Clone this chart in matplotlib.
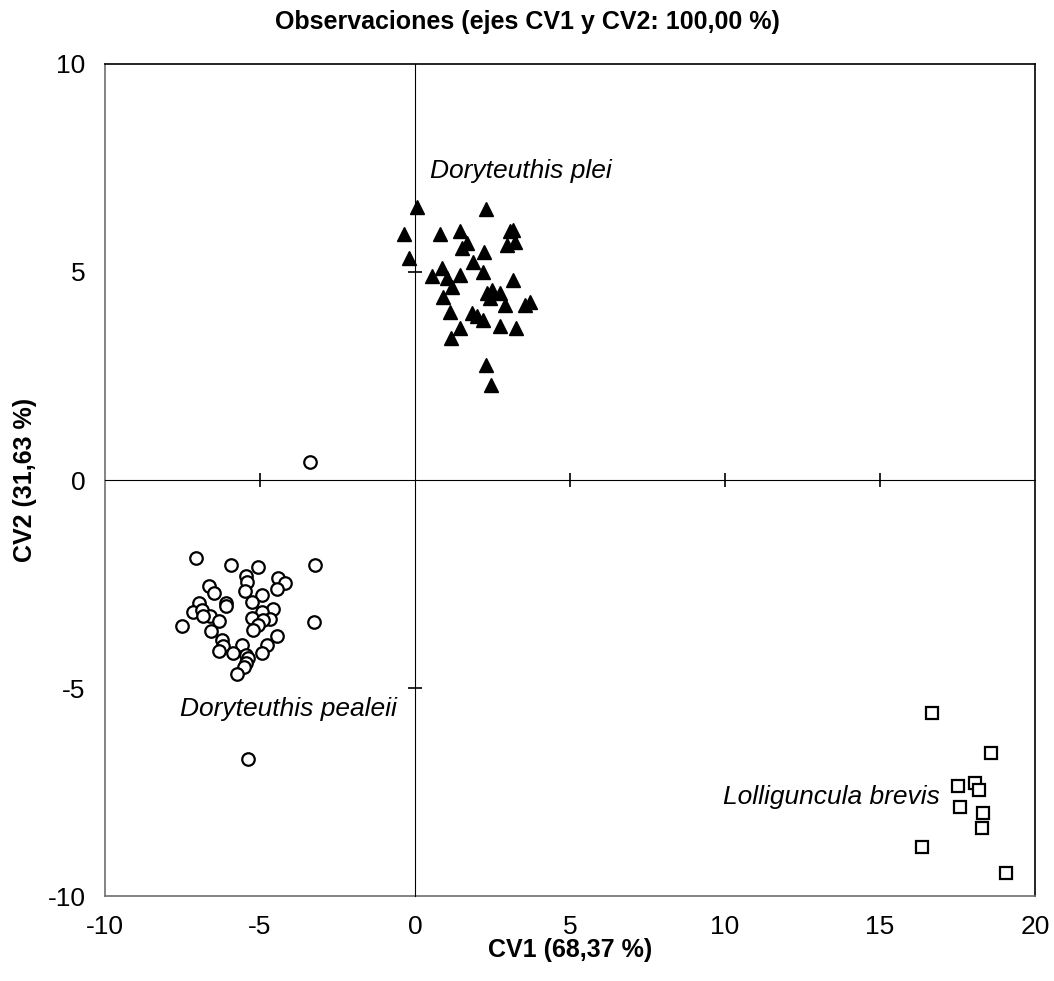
import matplotlib.pyplot as plt
import numpy as np

plt.rcParams['font.family'] = ['Liberation Sans', 'DejaVu Sans']
plt.rcParams['axes.unicode_minus'] = False

# Doryteuthis plei (triangulos)
plei_x = [0.07, 2.29, -0.35, 0.81, 1.45, 3.06, 3.17, 1.69, 1.51, 2.98, 3.23, -0.18,
          2.23, 1.86, 0.54, 0.86, 1.45, 1.02, 2.18, 1.18, 3.17, 0.91, 2.31, 2.47,
          2.74, 2.42, 2.90, 3.71, 3.55, 1.13, 1.83, 1.99, 2.20, 2.74, 3.25, 1.45,
          1.16, 2.29, 2.45]
plei_y = [6.56, 6.51, 5.91, 5.91, 5.99, 5.99, 6.01, 5.69, 5.58, 5.64, 5.73, 5.33,
          5.49, 5.25, 4.90, 5.09, 4.93, 4.85, 5.01, 4.65, 4.81, 4.41, 4.49, 4.57,
          4.49, 4.37, 4.21, 4.29, 4.21, 4.05, 4.01, 3.94, 3.85, 3.69, 3.66, 3.66,
          3.41, 2.76, 2.28]

# Doryteuthis pealeii (circulos)
pealeii_x = [-7.06, -5.95, -5.05, -3.23, -5.45, -5.43, -4.41, -4.19, -4.44, -6.64,
             -6.48, -5.48, -4.93, -6.96, -6.10, -6.10, -5.27, -7.15, -6.88, -6.61,
             -6.83, -6.31, -4.57, -4.95, -5.27, -4.68, -4.89, -5.05, -5.22, -3.26,
             -7.51, -6.59, -4.44, -6.24, -6.18, -6.31, -5.59, -4.78, -4.95, -5.86,
             -5.45, -5.38, -5.45, -5.52, -5.75, -3.39, -5.39]
pealeii_y = [-1.87, -2.04, -2.10, -2.04, -2.31, -2.44, -2.36, -2.48, -2.63, -2.55,
             -2.71, -2.67, -2.76, -2.95, -2.96, -3.03, -2.93, -3.17, -3.13, -3.27,
             -3.27, -3.38, -3.10, -3.17, -3.32, -3.35, -3.37, -3.49, -3.61, -3.41,
             -3.51, -3.63, -3.75, -3.85, -3.99, -4.10, -3.97, -3.97, -4.15, -4.15,
             -4.21, -4.29, -4.41, -4.50, -4.66, 0.43, -6.71]

# Lolliguncula brevis (cuadrados)
brevis_x = [16.67, 18.57, 17.53, 18.06, 18.20, 17.58, 18.33, 18.29, 16.36, 19.05]
brevis_y = [-5.59, -6.56, -7.35, -7.28, -7.45, -7.87, -8.00, -8.37, -8.83, -9.45]

ticks_x = [-10, -5, 0, 5, 10, 15, 20]
ticks_y = [-10, -5, 0, 5, 10]

fig = plt.figure(figsize=(10.54, 9.81), dpi=100)
rect = [0.0996, 0.0866, 0.8824, 0.8482]
ax = fig.add_axes(rect)

ax.plot(plei_x, plei_y, '^', color='black', markersize=10, zorder=3)
ax.plot(pealeii_x, pealeii_y, 'o', mfc='white', mec='black', mew=1.6, markersize=9, zorder=3)
ax.plot(brevis_x, brevis_y, 's', mfc='white', mec='black', mew=1.6, markersize=9, zorder=3)

ax.text(0.48, 7.43, 'Doryteuthis plei', style='italic', fontsize=19, va='center')
ax.text(-7.58, -5.5, 'Doryteuthis pealeii', style='italic', fontsize=19, va='center')
ax.text(9.94, -7.62, 'Lolliguncula brevis', style='italic', fontsize=19, va='center')

ax.set_xlim(-10, 20)
ax.set_ylim(-10, 10)
ax.set_xticks(ticks_x)
ax.set_yticks(ticks_y)
ax.tick_params(length=0, labelsize=19)
ax.tick_params(axis='x', pad=14)
ax.tick_params(axis='y', pad=14)
for s in ['left', 'bottom']:
    ax.spines[s].set_color('#6e6e6e')
for s in ['top', 'right']:
    ax.spines[s].set_color('black')
for s in ax.spines.values():
    s.set_linewidth(1.2)

fig.text(0.5, 1 - 22 / 981, 'Observaciones (ejes CV1 y CV2: 100,00 %)', fontsize=18,
         fontweight='bold', ha='center', va='center')
fig.text(570 / 1054, 1 - 950 / 981, 'CV1 (68,37 %)', fontsize=18, fontweight='bold',
         ha='center', va='center')
fig.text(25 / 1054, 1 - 480 / 981, 'CV2 (31,63 %)', fontsize=18, fontweight='bold',
         ha='center', va='center', rotation=90)

# ejes en el origen con marcas cruzadas
ax2 = fig.add_axes(rect)
ax2.set_xlim(-10, 20)
ax2.set_ylim(-10, 10)
ax2.patch.set_visible(False)
ax2.spines['top'].set_visible(False)
ax2.spines['right'].set_visible(False)
ax2.spines['left'].set_position(('data', 0))
ax2.spines['bottom'].set_position(('data', 0))
ax2.spines['left'].set_color('black')
ax2.spines['bottom'].set_color('black')
ax2.set_xticks([t for t in ticks_x if t not in (-10, 0, 20)])
ax2.set_yticks([t for t in ticks_y if t not in (-10, 0, 10)])
ax2.tick_params(direction='inout', length=10, width=1.2, labelleft=False, labelbottom=False)

fig.savefig('out.png', dpi=100)
